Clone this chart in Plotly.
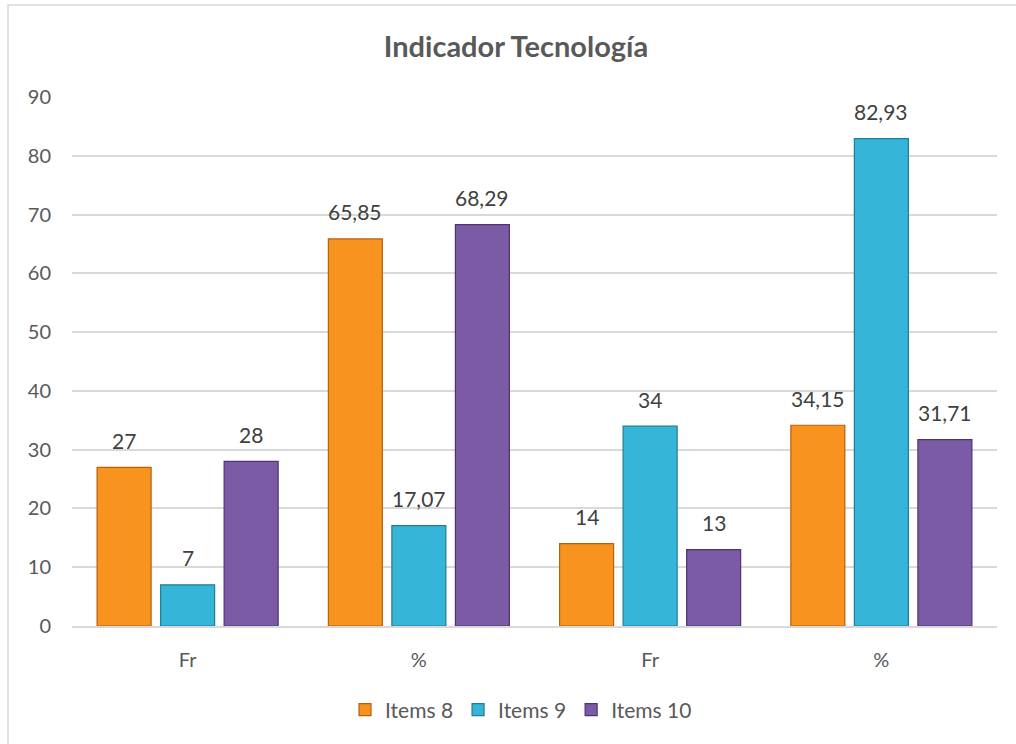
import plotly.graph_objects as go

# Category labels (two blocks: frequency and percentage)
categories = ["Fr", "%", "Fr", "%"]
items_8 = [27, 65.85, 14, 34.15]
items_9 = [7, 17.07, 34, 82.93]
items_10 = [28, 68.29, 13, 31.71]

series = [
    ("Items 8", items_8, "#F7931E", "#B5620E"),
    ("Items 9", items_9, "#35B6D8", "#1F7D96"),
    ("Items 10", items_10, "#7B5AA6", "#4E3570"),
]

FONT = "Lato, Open Sans, sans-serif"
BARGAP = 0.176
GROUPGAP = 0.15


def fmt(v):
    return f"{v:g}".replace(".", ",")


x_pos = list(range(len(categories)))
slot = (1 - BARGAP) / len(series)

fig = go.Figure()
annotations = []
for i, (name, vals, color, edge) in enumerate(series):
    fig.add_trace(go.Bar(
        name=name,
        x=x_pos,
        y=vals,
        marker=dict(color=color, line=dict(color=edge, width=1.2)),
    ))
    # value labels above each bar, centred on the bar's slot within the group
    offset = (i - (len(series) - 1) / 2) * slot
    for xp, v in zip(x_pos, vals):
        annotations.append(dict(
            x=xp + offset, y=v, xref="x", yref="y",
            text=fmt(v), showarrow=False,
            yanchor="middle", yshift=27,
            font=dict(size=21, color="#404040", family=FONT),
        ))

fig.update_layout(
    width=1016,
    height=744,
    margin=dict(l=72, r=19, t=97, b=118),
    paper_bgcolor="white",
    plot_bgcolor="white",
    barmode="group",
    bargap=BARGAP,
    bargroupgap=GROUPGAP,
    font=dict(family=FONT, color="#595959", size=20),
    title=dict(
        text="<b>Indicador Tecnología</b>",
        x=516 / 1016,
        xref="container",
        xanchor="center",
        y=1 - 47 / 744,
        yref="container",
        yanchor="middle",
        font=dict(size=29, color="#595959", family=FONT),
    ),
    legend=dict(
        orientation="h",
        x=(521 - 72) / 925,
        xanchor="center",
        y=-(710 - 626) / 529,
        yanchor="middle",
        font=dict(size=21, color="#595959"),
        itemwidth=30,
    ),
    annotations=annotations,
    shapes=[
        dict(
            type="rect",
            xref="paper", yref="paper",
            x0=(8 - 72) / 925, x1=1.05,
            y0=-0.25, y1=1 + (97 - 5) / 529,
            line=dict(color="#D9D9D9", width=1.5),
            fillcolor="rgba(0,0,0,0)",
            layer="below",
        )
    ],
)

fig.update_xaxes(
    tickvals=x_pos,
    ticktext=categories,
    range=[-0.5, len(categories) - 0.5],
    showgrid=False,
    showline=True,
    linecolor="#D9D9D9",
    linewidth=2,
    ticks="",
    ticklabelstandoff=15,
    tickfont=dict(size=20, color="#595959"),
)
fig.update_yaxes(
    range=[0, 90],
    dtick=10,
    showgrid=True,
    gridcolor="#D9D9D9",
    gridwidth=1.5,
    zeroline=False,
    ticks="",
    ticklabelstandoff=20,
    tickfont=dict(size=20, color="#595959"),
)

fig.write_html("out.html")
